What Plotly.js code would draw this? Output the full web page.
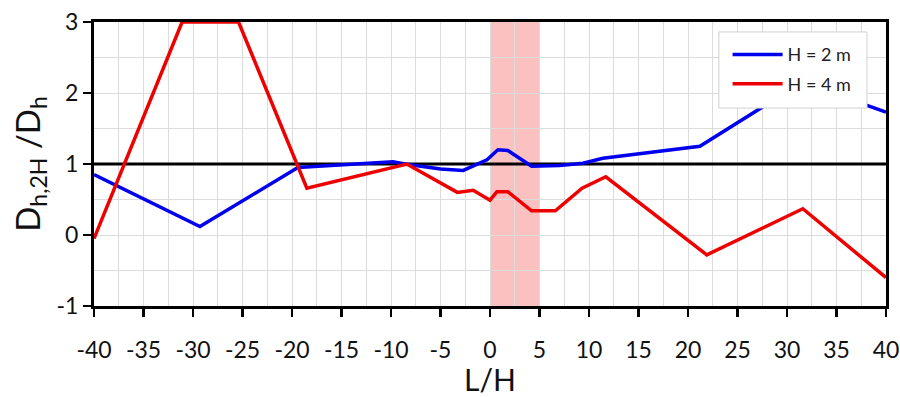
<!DOCTYPE html>
<html>
<head>
<meta charset="utf-8">
<script src="https://cdn.plot.ly/plotly-3.0.1.min.js"></script>
<style>html,body{margin:0;padding:0;background:#fff;}#chart{width:900px;height:397px;}</style>
</head>
<body>
<div id="chart"></div>
<script>
// H = 2 m
const xBlue = [-40, -29.3, -19.4, -14, -9.8, -8.6, -5, -2.7, -0.3, 0.8, 1.8, 4.2, 7, 9.4, 11.4, 21.2, 31.5, 40];
const yBlue = [0.85, 0.12, 0.95, 0.99, 1.03, 1.0, 0.93, 0.91, 1.06, 1.2, 1.19, 0.97, 0.98, 1.01, 1.08, 1.25, 2.15, 1.73];
// H = 4 m
const xRed = [-40, -31.1, -25.4, -18.5, -8.4, -3.3, -1.7, 0, 0.7, 1.8, 4.2, 6.6, 9.3, 11.7, 21.9, 31.6, 40];
const yRed = [-0.05, 3, 3, 0.66, 1.0, 0.6, 0.63, 0.49, 0.61, 0.61, 0.34, 0.34, 0.66, 0.82, -0.28, 0.37, -0.6];
// reference line and shaded zone
const xRef = [-40, 40];
const yRef = [1, 1];
const bandX = [0, 5];
const xTicks = [-40, -35, -30, -25, -20, -15, -10, -5, 0, 5, 10, 15, 20, 25, 30, 35, 40];
const xTickText = ["-40", "-35", "-30", "-25", "-20", "-15", "-10", "-5", "0", "5", "10", "15", "20", "25", "30", "35", "40"];
const yTicks = [-1, 0, 1, 2, 3];
const yTickText = ["-1", "0", "1", "2", "3"];
const seriesNames = ["H = 2 m", "H = 4 m"];

const FONT = "Lato, 'Open Sans', sans-serif";

const traces = [
  {x: xRef, y: yRef, mode: "lines", line: {color: "#000", width: 3}, showlegend: false, hoverinfo: "skip"},
  {x: xBlue, y: yBlue, mode: "lines", name: seriesNames[0], legendgroup: "a", line: {color: "#0000ee", width: 3.5}},
  {x: xRed, y: yRed, mode: "lines", name: seriesNames[1], legendgroup: "b", line: {color: "#ee0000", width: 3.5}}
];

const layout = {
  width: 900, height: 397,
  margin: {l: 94, r: 14, t: 22, b: 91},
  paper_bgcolor: "#fff", plot_bgcolor: "#fff",
  font: {family: FONT, color: "#222"},
  showlegend: true,
  legend: {
    x: 0.80, y: 0.95, xanchor: "left", yanchor: "top",
    bgcolor: "rgba(0,0,0,0)", borderwidth: 0,
    font: {family: FONT, size: 18, color: "#222"},
    tracegroupgap: 3, itemwidth: 50
  },
  xaxis: {
    range: [-40, 40], tickmode: "array", tickvals: xTicks, ticktext: xTickText,
    ticks: "outside", ticklen: 8, tickwidth: 2.5, tickcolor: "#000",
    ticklabelstandoff: 13,
    showline: true, linecolor: "#000", linewidth: 3, mirror: true,
    showgrid: true, gridcolor: "#dcdcdc", gridwidth: 1,
    minor: {dtick: 2.5, showgrid: true, gridcolor: "#dcdcdc", gridwidth: 1},
    zeroline: false,
    tickfont: {family: FONT, size: 23, color: "#111"},
    title: {text: "L/H", font: {family: FONT, size: 30, color: "#111"}, standoff: 10}
  },
  yaxis: {
    range: [-1, 3], tickmode: "array", tickvals: yTicks, ticktext: yTickText,
    ticks: "outside", ticklen: 8, tickwidth: 2.5, tickcolor: "#000",
    showline: true, linecolor: "#000", linewidth: 3, mirror: true,
    showgrid: true, gridcolor: "#dcdcdc", gridwidth: 1,
    minor: {dtick: 0.5, showgrid: true, gridcolor: "#dcdcdc", gridwidth: 1},
    zeroline: false,
    tickfont: {family: FONT, size: 23, color: "#111"},
    title: {text: "D<sub>h,2H</sub> /D<sub>h</sub>", font: {family: FONT, size: 33, color: "#111"}, standoff: 6}
  },
  shapes: [
    {type: "rect", xref: "x", yref: "paper", x0: bandX[0], x1: bandX[1], y0: 0, y1: 1,
     fillcolor: "rgba(248,150,150,0.6)", line: {width: 0}, layer: "below"},
    {type: "rect", xref: "paper", yref: "paper", x0: 0.789, x1: 0.976, y0: 0.697, y1: 0.965,
     fillcolor: "#fff", line: {color: "#d0d0d0", width: 1}, layer: "above"}
  ]
};

Plotly.newPlot("chart", traces, layout, {displayModeBar: false, staticPlot: true});
</script>
</body>
</html>
